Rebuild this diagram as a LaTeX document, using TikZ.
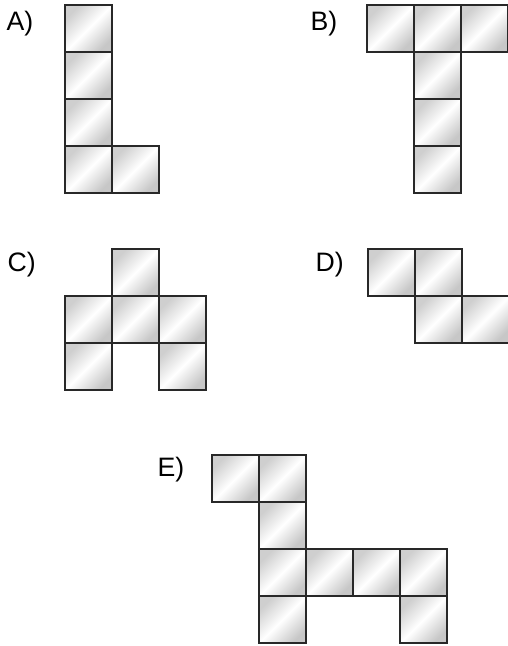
\documentclass[tikz,border=0pt]{standalone}
\usepackage{fontspec}
\setmainfont{Liberation Sans}

\tikzset{every picture/.style={line width=0.75pt}}
\tikzset{tile/.style={draw={rgb, 255:red, 40; green, 40; blue, 40 },line width=1pt,top color=black!19,bottom color=black!22,middle color=white,shading angle=45}}

\begin{document}
\begin{tikzpicture}[x=0.75pt,y=0.75pt,yscale=-1,xscale=1]
\useasboundingbox (0,0) rectangle (507,646);

%Shape: Square (A)
\draw [tile] (65,5) rectangle ++(47,47) ;
\draw [tile] (65,52) rectangle ++(47,47) ;
\draw [tile] (65,99) rectangle ++(47,47) ;
\draw [tile] (65,146) rectangle ++(47,47) ;
\draw [tile] (112,146) rectangle ++(47,47) ;

%Shape: Square (B)
\draw [tile] (367,5) rectangle ++(47,47) ;
\draw [tile] (414,5) rectangle ++(47,47) ;
\draw [tile] (461,5) rectangle ++(47,47) ;
\draw [tile] (414,52) rectangle ++(47,47) ;
\draw [tile] (414,99) rectangle ++(47,47) ;
\draw [tile] (414,146) rectangle ++(47,47) ;

%Shape: Square (C)
\draw [tile] (112,249) rectangle ++(47,47) ;
\draw [tile] (65,296) rectangle ++(47,47) ;
\draw [tile] (112,296) rectangle ++(47,47) ;
\draw [tile] (159,296) rectangle ++(47,47) ;
\draw [tile] (65,343) rectangle ++(47,47) ;
\draw [tile] (159,343) rectangle ++(47,47) ;

%Shape: Square (D)
\draw [tile] (368,249) rectangle ++(47,47) ;
\draw [tile] (415,249) rectangle ++(47,47) ;
\draw [tile] (415,296) rectangle ++(47,47) ;
\draw [tile] (462,296) rectangle ++(47,47) ;

%Shape: Square (E)
\draw [tile] (212,455) rectangle ++(47,47) ;
\draw [tile] (259,455) rectangle ++(47,47) ;
\draw [tile] (259,502) rectangle ++(47,47) ;
\draw [tile] (259,549) rectangle ++(47,47) ;
\draw [tile] (306,549) rectangle ++(47,47) ;
\draw [tile] (353,549) rectangle ++(47,47) ;
\draw [tile] (400,549) rectangle ++(47,47) ;
\draw [tile] (259,596) rectangle ++(47,47) ;
\draw [tile] (400,596) rectangle ++(47,47) ;

% Text Node
\draw (6,30) node [anchor=base west][inner sep=0pt]  [font=\fontsize{20}{24}\selectfont] [align=left] (lblA) {A)};
% Text Node
\draw (310,30) node [anchor=base west][inner sep=0pt]  [font=\fontsize{20}{24}\selectfont] [align=left] (lblB) {B)};
% Text Node
\draw (7,271) node [anchor=base west][inner sep=0pt]  [font=\fontsize{20}{24}\selectfont] [align=left] (lblC) {C)};
% Text Node
\draw (315,271) node [anchor=base west][inner sep=0pt]  [font=\fontsize{20}{24}\selectfont] [align=left] (lblD) {D)};
% Text Node
\draw (157,476) node [anchor=base west][inner sep=0pt]  [font=\fontsize{20}{24}\selectfont] [align=left] (lblE) {E)};

\end{tikzpicture}
\end{document}
